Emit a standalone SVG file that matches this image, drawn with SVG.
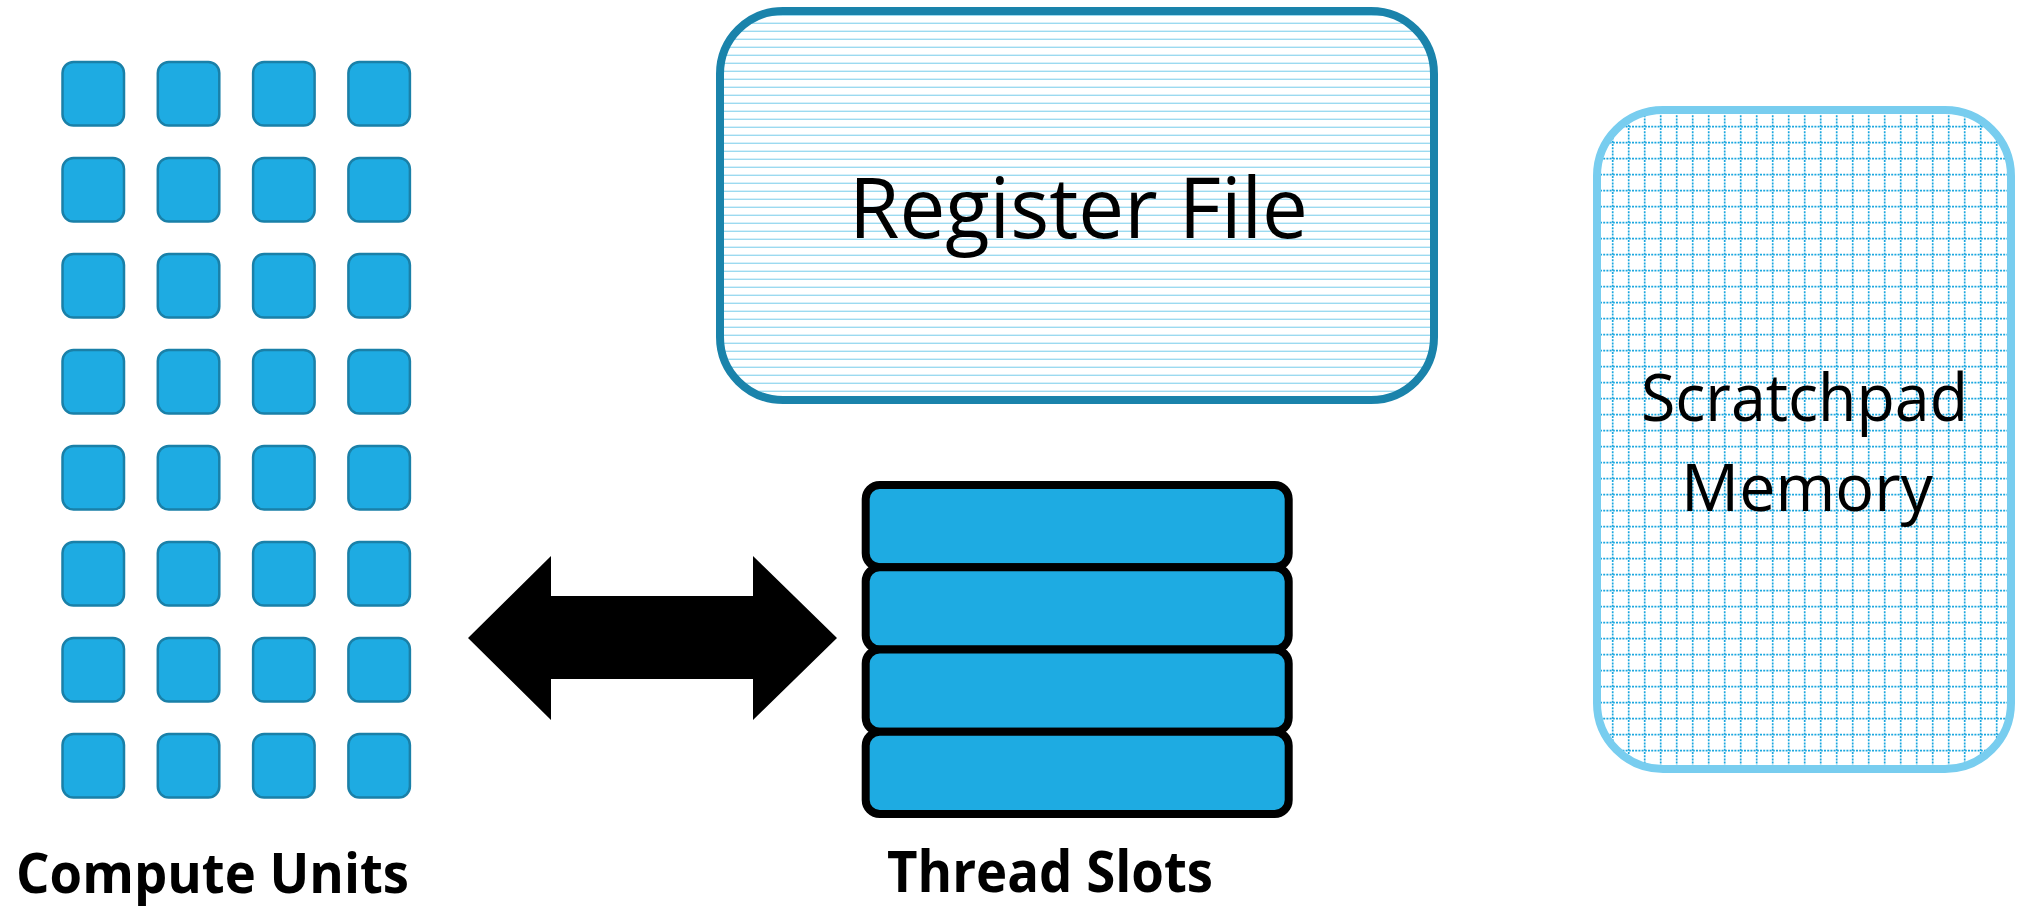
<svg xmlns="http://www.w3.org/2000/svg" width="2018" height="907" viewBox="0 0 2018 907">
  <style>
    .cu { fill: #1eabe2; stroke: #1a80a8; stroke-width: 2.5; }
    .slot { fill: #1eabe2; stroke: #000000; stroke-width: 8; }
    .txt { font-family: "Open Sans", "Liberation Sans", sans-serif; fill: #000000; }
    .bold { font-weight: 700; }
  </style>
  <defs>
    <!-- thin horizontal stripes for the register file -->
    <pattern id="hlines" patternUnits="userSpaceOnUse" width="16" height="8">
      <rect x="0" y="6.6" width="16" height="1.8" fill="#9cdaf0"/>
    </pattern>
    <!-- dotted grid for the scratchpad memory -->
    <pattern id="dotgrid" patternUnits="userSpaceOnUse" width="16" height="16">
      <line x1="0" y1="14.7" x2="16" y2="14.7" stroke="#1ba7df" stroke-width="1.7" stroke-dasharray="2 1.2"/>
      <line x1="12.7" y1="0" x2="12.7" y2="16" stroke="#1ba7df" stroke-width="1.7" stroke-dasharray="2 1.2"/>
    </pattern>
  </defs>

  <rect width="2018" height="907" fill="#ffffff"/>

  <!-- 8 x 4 array of compute units -->
  <g id="compute-units">
    <rect class="cu" x="62.5" y="62" width="61.5" height="63.5" rx="11"/>
    <rect class="cu" x="157.8" y="62" width="61.5" height="63.5" rx="11"/>
    <rect class="cu" x="253.1" y="62" width="61.5" height="63.5" rx="11"/>
    <rect class="cu" x="348.4" y="62" width="61.5" height="63.5" rx="11"/>
    <rect class="cu" x="62.5" y="158" width="61.5" height="63.5" rx="11"/>
    <rect class="cu" x="157.8" y="158" width="61.5" height="63.5" rx="11"/>
    <rect class="cu" x="253.1" y="158" width="61.5" height="63.5" rx="11"/>
    <rect class="cu" x="348.4" y="158" width="61.5" height="63.5" rx="11"/>
    <rect class="cu" x="62.5" y="254" width="61.5" height="63.5" rx="11"/>
    <rect class="cu" x="157.8" y="254" width="61.5" height="63.5" rx="11"/>
    <rect class="cu" x="253.1" y="254" width="61.5" height="63.5" rx="11"/>
    <rect class="cu" x="348.4" y="254" width="61.5" height="63.5" rx="11"/>
    <rect class="cu" x="62.5" y="350" width="61.5" height="63.5" rx="11"/>
    <rect class="cu" x="157.8" y="350" width="61.5" height="63.5" rx="11"/>
    <rect class="cu" x="253.1" y="350" width="61.5" height="63.5" rx="11"/>
    <rect class="cu" x="348.4" y="350" width="61.5" height="63.5" rx="11"/>
    <rect class="cu" x="62.5" y="446" width="61.5" height="63.5" rx="11"/>
    <rect class="cu" x="157.8" y="446" width="61.5" height="63.5" rx="11"/>
    <rect class="cu" x="253.1" y="446" width="61.5" height="63.5" rx="11"/>
    <rect class="cu" x="348.4" y="446" width="61.5" height="63.5" rx="11"/>
    <rect class="cu" x="62.5" y="542" width="61.5" height="63.5" rx="11"/>
    <rect class="cu" x="157.8" y="542" width="61.5" height="63.5" rx="11"/>
    <rect class="cu" x="253.1" y="542" width="61.5" height="63.5" rx="11"/>
    <rect class="cu" x="348.4" y="542" width="61.5" height="63.5" rx="11"/>
    <rect class="cu" x="62.5" y="638" width="61.5" height="63.5" rx="11"/>
    <rect class="cu" x="157.8" y="638" width="61.5" height="63.5" rx="11"/>
    <rect class="cu" x="253.1" y="638" width="61.5" height="63.5" rx="11"/>
    <rect class="cu" x="348.4" y="638" width="61.5" height="63.5" rx="11"/>
    <rect class="cu" x="62.5" y="734" width="61.5" height="63.5" rx="11"/>
    <rect class="cu" x="157.8" y="734" width="61.5" height="63.5" rx="11"/>
    <rect class="cu" x="253.1" y="734" width="61.5" height="63.5" rx="11"/>
    <rect class="cu" x="348.4" y="734" width="61.5" height="63.5" rx="11"/>
    <text class="txt bold" x="16" y="893" font-size="55" textLength="393" lengthAdjust="spacingAndGlyphs">Compute Units</text>
  </g>

  <!-- register file -->
  <g id="register-file">
    <rect x="720" y="11" width="714" height="389" rx="63" fill="url(#hlines)" stroke="#1a83ab" stroke-width="8"/>
    <text class="txt" x="1078.5" y="238" font-size="84" text-anchor="middle" textLength="459" lengthAdjust="spacingAndGlyphs">Register File</text>
  </g>

  <!-- scratchpad memory -->
  <g id="scratchpad-memory">
    <rect x="1597" y="110" width="414" height="659" rx="66" fill="url(#dotgrid)" stroke="#78cdef" stroke-width="8"/>
    <text class="txt" x="1804.5" y="421" font-size="65" text-anchor="middle" textLength="327" lengthAdjust="spacingAndGlyphs">Scratchpad</text>
    <text class="txt" x="1807" y="511" font-size="65" text-anchor="middle" textLength="252" lengthAdjust="spacingAndGlyphs">Memory</text>
  </g>

  <!-- stack of thread slots -->
  <g id="thread-slots">
    <rect class="slot" x="865.7" y="485" width="423" height="82.25" rx="14"/>
    <rect class="slot" x="865.7" y="567.25" width="423" height="82.25" rx="14"/>
    <rect class="slot" x="865.7" y="649.5" width="423" height="82.25" rx="14"/>
    <rect class="slot" x="865.7" y="731.75" width="423" height="82.25" rx="14"/>
    <text class="txt bold" x="887" y="892" font-size="57" textLength="326" lengthAdjust="spacingAndGlyphs">Thread Slots</text>
  </g>

  <!-- two-way link between compute units and thread slots -->
  <g id="connectors">
    <path d="M468,638 L551,556 L551,596 L753,596 L753,556 L837,638 L753,720 L753,679 L551,679 L551,720 Z" fill="#000000"/>
  </g>
</svg>
